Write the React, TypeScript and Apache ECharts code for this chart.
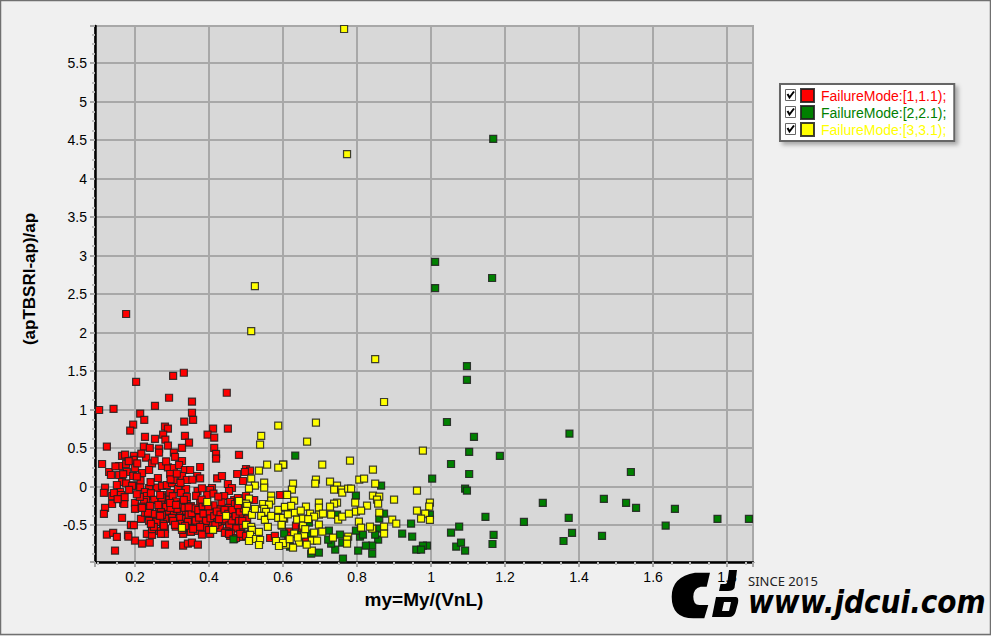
import React, { useEffect, useRef } from "react";
import * as echarts from "echarts";

const seriesNames = ["FailureMode:[1,1.1);", "FailureMode:[2,2.1);", "FailureMode:[3,3.1);"];
const seriesColors = ["#ff0000", "#008000", "#ffff00"];
const xAxisTitle = "my=My/(VnL)";
const yAxisTitle = "(apTBSRI-ap)/ap";

const redPoints: number[][] = [
  [.176,2.243],[.303,1.44],[.332,1.48],[.203,1.36],[.448,1.22],[.292,1.155],[.354,1.105],[.254,1.05],[.103,.996],[.142,1.01],
  [.354,.96],[.214,.95],[.225,.867],[.357,.867],[.333,.845],[.195,.806],[.187,.728],[.281,.78],[.289,.754],[.451,.754],
  [.411,.754],[.396,.676],[.227,.646],[.254,.62],[.276,.676],[.282,.611],[.335,.659],[.414,.637],[.346,.572],[.289,.533],
  [.124,.52],[.224,.52],[.24,.503],[.327,.503],[.414,.503],[.265,.494],[.265,.442],[.305,.442],[.419,.425],[.419,.364],
  [.481,.412],[.23,.377],[.165,.399],[.173,.416],[.197,.399],[.196,.347],[.308,.386],[.327,.334],[.111,.295],[.246,.304],
  [.157,.269],[.176,.295],[.2,.243],[.219,.178],[.238,.217],[.273,.269],[.289,.252],[.305,.243],[.319,.282],[.335,.217],
  [.349,.217],[.376,.256],[.13,.191],[.135,.152],[.178,.191],[.157,.152],[.195,.139],[.262,.113],[.295,.165],[.327,.139],
  [.368,.139],[.376,.109],[.422,.109],[.435,.139],[.476,.165],[.5,.23],[.511,.208],[.497,.191],[.492,.074],[.165,.061],
  [.176,.044],[.195,.018],[.192,.01],[.119,-.012],[.116,-.08],[.214,-.004],[.238,-.017],[.259,-.012],[.273,.01],[.286,.022],
  [.3,.048],[.316,-.03],[.338,-.03],[.305,.087],[.34,.087],[.369,-.056],[.408,-.017],[.403,-.043],[.451,.035],[.462,-.017],
  [.454,-.056],[.16,-.069],[.138,-.121],[.143,-.082],[.162,-.108],[.227,-.069],[.232,-.121],[.273,-.108],[.23,-.173],[.295,-.082],
  [.324,-.082],[.34,-.134],[.395,-.108],[.441,-.121],[.468,-.173],[.478,-.147],[.5,-.121],[.522,-.173],[.138,-.225],[.168,-.212],
  [.171,-.225],[.2,-.212],[.224,-.199],[.273,-.199],[.305,-.251],[.34,-.225],[.376,-.212],[.457,-.199],[.47,-.225],[.489,-.238],
  [.119,-.276],[.116,-.354],[.2,-.289],[.238,-.289],[.265,-.289],[.289,-.225],[.289,-.315],[.305,-.328],[.322,-.315],[.338,-.315],
  [.354,-.315],[.373,-.328],[.392,-.289],[.408,-.302],[.43,-.289],[.451,-.276],[.473,-.302],[.492,-.315],[.165,-.406],[.216,-.419],
  [.238,-.38],[.257,-.406],[.287,-.419],[.3,-.406],[.322,-.406],[.338,-.419],[.358,-.393],[.376,-.367],[.395,-.393],[.416,-.38],
  [.435,-.406],[.465,-.393],[.487,-.38],[.19,-.501],[.238,-.445],[.276,-.484],[.246,-.536],[.303,-.445],[.322,-.484],[.343,-.458],
  [.362,-.484],[.381,-.458],[.405,-.484],[.438,-.445],[.454,-.523],[.47,-.484],[.487,-.523],[.26,-.575],[.281,-.549],[.349,-.536],
  [.37,-.575],[.389,-.536],[.43,-.536],[.124,-.623],[.141,-.601],[.151,-.653],[.181,-.627],[.2,-.7],[.219,-.74],[.24,-.727],
  [.232,-.614],[.246,-.627],[.281,-.614],[.281,-.753],[.33,-.766],[.343,-.74],[.354,-.727],[.37,-.753],[.146,-.83],[.33,-.614],
  [.351,-.588],[.381,-.623],[.403,-.614],[.457,-.64],[.468,-.679],[.487,-.653],[.565,-.666],[.578,-.64],[.592,-.108],[.617,-.584],
  [.635,-.506],[.662,-.688],[.651,-.545],[.614,-.636],[.213,-.131],[.243,-.083],[.252,-.171],[.263,-.238],[.272,-.142],[.284,-.262],
  [.293,-.168],[.302,-.122],[.311,-.192],[.313,-.287],[.324,-.231],[.332,-.172],[.334,-.274],[.345,-.362],[.351,-.253],[.353,-.342],
  [.362,-.281],[.364,-.441],[.371,-.303],[.373,-.402],[.383,-.252],[.385,-.351],[.392,-.443],[.391,-.203],[.402,-.333],[.404,-.412],
  [.412,-.241],[.414,-.382],[.421,-.322],[.423,-.461],[.431,-.362],[.434,-.204],[.442,-.301],[.444,-.423],[.452,-.352],[.455,-.502],
  [.463,-.303],[.461,-.441],[.472,-.383],[.474,-.542],[.483,-.322],[.481,-.443],[.491,-.503],[.494,-.282],[.503,-.421],[.172,-.135],
  [.151,.022],[.147,.264],[.183,.331],[.206,.304],[.215,.082],[.168,.162],[.153,-.162],[.184,-.041],[.205,-.098],[.218,-.26],
  [.227,-.336],[.248,-.352],[.258,-.46],[.27,-.33],[.296,-.275],[.31,-.52],[.327,-.562],[.345,-.268],[.365,-.12],[.38,-.168],
  [.398,-.255],[.417,-.5],[.427,-.42],[.447,-.58],[.46,-.61],[.478,-.24],[.49,-.445],[.505,-.62],[.217,.43],[.205,.132],
  [.242,.06],[.253,.34],[.284,.33],[.296,.095],[.313,.17],[.323,.05],[.355,.09],[.381,-.02],[.412,-.09],[.425,-.13],
  [.246,-.55],[.251,-.523],[.243,-.484],[.235,-.341],[.241,-.25],[.219,-.276],[.268,-.108],[.273,-.367],[.295,-.212],[.311,-.237],
  [.268,-.38],[.189,-.497],[.197,-.5],[.182,-.649],[.27,-.614],[.278,-.51],[.308,-.497],[.335,-.51],[.357,-.549],[.376,-.523],
  [.4,-.562],[.443,-.601],[.454,-.614],[.473,-.666],[.484,-.614],[.5,-.64],
]

const greenPoints: number[][] = [
  [1.168,4.516],[1.011,2.92],[1.011,2.58],[1.165,2.71],[1.097,1.567],[1.097,1.386],[1.043,.84],[1.116,.646],[1.103,.451],[1.054,.295],
  [1.103,.165],[1.003,.105],[1.092,-.025],[1.097,-.051],[.633,.403],[.865,.014],[.797,-.116],[.946,-.48],[.949,-.649],[.922,-.61],
  [1.076,-.519],[1.054,-.597],[1.068,-.779],[1.081,-.727],[1.092,-.83],[.989,-.765],[.978,-.765],[.96,-.817],[.973,-.817],[.86,-.415],
  [.873,-.35],[.86,-.545],[.857,-.688],[.849,-.623],[.841,-.766],[.824,-.766],[.841,-.87],[.803,-.83],[.808,-.649],[.816,-.623],
  [.797,-.571],[.762,-.934],[.741,-.817],[.76,-.727],[.754,-.623],[.73,-.74],[.722,-.688],[.724,-.571],[.697,-.856],[.676,-.87],
  [.746,-.363],[.67,-.467],[.649,-.623],[.603,-.61],[.673,-.61],[.997,-.363],[.619,-.779],[.466,-.683],[1.374,.689],[1.186,.399],
  [1.54,.191],[1.467,-.159],[1.302,-.211],[1.527,-.211],[1.554,-.276],[1.659,-.289],[1.147,-.393],[1.372,-.406],[1.774,-.419],[1.859,-.419],
  [1.251,-.458],[1.634,-.506],[1.169,-.627],[1.381,-.601],[1.462,-.64],[1.358,-.705],[1.166,-.744],
]

const yellowPoints: number[][] = [
  [.765,5.944],[.773,4.32],[.524,2.606],[.514,2.02],[.849,1.658],[.873,1.1],[.689,.832],[.665,.585],[.978,.468],[.781,.338],
  [.706,.286],[.601,.286],[.843,.221],[.689,.092],[.687,.04],[.727,.066],[.627,.04],[.624,-.038],[.806,.092],[.819,.105],
  [.849,.04],[.746,.014],[.738,-.038],[.758,-.038],[.76,-.077],[.776,-.025],[.784,-.025],[.962,-.051],[.843,-.116],[.86,-.129],
  [.854,-.168],[.9,-.168],[.997,-.207],[.995,-.259],[.962,-.311],[.984,-.35],[.973,-.415],[.997,-.432],[.86,-.337],[.857,-.22],
  [.827,-.246],[.795,-.207],[.797,-.324],[.811,-.311],[.746,-.207],[.738,-.22],[.727,-.259],[.73,-.363],[.697,-.207],[.697,-.272],
  [.697,-.363],[.708,-.35],[.662,-.259],[.673,-.35],[.63,-.181],[.61,-.103],[.608,-.272],[.632,-.337],[.603,-.415],[.638,-.428],
  [.654,-.415],[.684,-.389],[.749,-.428],[.76,-.389],[.778,-.35],[.805,-.454],[.811,-.532],[.841,-.545],[.835,-.519],[.873,-.519],
  [.873,-.61],[.895,-.428],[.906,-.48],[.697,-.493],[.654,-.506],[.706,-.584],[.735,-.662],[.776,-.649],[.773,-.688],[.773,-.74],
  [.678,-.7],[.692,-.7],[.678,-.83],[.643,-.727],[.627,-.792],[.608,-.753],[.6,-.727],[.63,-.61],[.597,-.506],[.664,-.753],
  [.684,-.597],[.657,-.623],[.587,.793],[.541,.659],[.538,.546],[.557,.286],[.6,.286],[.587,.247],[.535,.208],[.514,.105],
  [.524,.014],[.508,-.025],[.549,.053],[.549,-.012],[.568,-.116],[.568,-.181],[.611,-.108],[.508,-.155],[.5,-.22],[.503,-.25],
  [.5,-.315],[.516,-.367],[.524,-.289],[.546,-.225],[.562,-.233],[.549,-.289],[.554,-.328],[.541,-.38],[.551,-.432],[.568,-.38],
  [.587,-.302],[.605,-.263],[.587,-.406],[.6,-.406],[.596,-.497],[.559,-.523],[.5,-.497],[.514,-.523],[.516,-.562],[.535,-.588],
  [.511,-.627],[.527,-.679],[.508,-.705],[.538,-.692],[.535,-.757],[.581,-.705],[.6,-.731],[.589,-.77],[.446,-.38],[.395,-.199],
  [.481,-.186],[.327,-.536],[.411,-.562],[.622,-.25],[.613,-.36],[.648,-.31],[.668,-.42],[.64,-.66],[.618,-.68],[.66,-.55],
]

const gridRect = { left: 95, top: 26, width: 658, height: 536 };
const xRange = [0.0919, 1.87];
const yRange = [-0.978, 5.983];

const logoC = "M710 572.7 L695 572.7 Q671.7 576.7 671.7 596.7 Q671.7 618.3 693.3 618.3 L704.3 618.3 L708.3 605 L699.3 605 Q693.3 605 693.3 596.7 Q693.3 588.3 700.7 586.7 L706.7 586.7 Z";
const logoJ = "M729 570 L737 570 L734.5 588 Q733 591 728 591 L719 591 L720.5 584 L725 584 Q727 584 727.5 581 Z";
const logoD = "M716 597 L736 597 Q739 597 738 603 L735.5 612 Q734 617 729 617 L712 617 Z M724 602 L722 611 L729 611 L731 602 Z";

echarts.graphic.registerShape("logoC", echarts.graphic.extendPath(logoC, {}));
echarts.graphic.registerShape("logoJ", echarts.graphic.extendPath(logoJ, {}));
echarts.graphic.registerShape("logoD", echarts.graphic.extendPath(logoD, {}));

const font = "'Liberation Sans', Arial, sans-serif";
const gridGrey = "#a8a8a8";

function onMultiple(v: number, step: number) {
  const q = v / step;
  return Math.abs(q - Math.round(q)) < 1e-6;
}

function axisCommon(step: number) {
  return {
    type: "value" as const,
    axisLine: { show: true, onZero: false, lineStyle: { color: "#000", width: 2.5 } },
    axisTick: { show: true, length: 5, lineStyle: { color: gridGrey, width: 2 } },
    minorTick: { show: true, splitNumber: 4, length: 3, lineStyle: { color: "#bdbdbd", width: 2 } },
    splitLine: { show: true, lineStyle: { color: gridGrey, width: 2 } },
    axisLabel: {
      color: "#000", fontSize: 14, fontFamily: font, hideOverlap: false,
      formatter: (v: number) => (onMultiple(v, step) ? String(Math.round(v * 10) / 10) : ""),
    },
  };
}

export default function App() {
  const ref = useRef<HTMLDivElement>(null);
  useEffect(() => {
    document.body.style.margin = "0";
    document.body.style.background = "#f0f0f0";
    const chart = echarts.init(ref.current!, undefined, { renderer: "svg" });
    const rowsY = [95, 112, 129];
    const checkboxes = rowsY.flatMap((y) => [
      { type: "rect", z: 20, shape: { x: 785.5, y: y - 5.5, width: 10, height: 11 }, style: { fill: "#fff", stroke: "#666", lineWidth: 1 } },
      { type: "polyline", z: 21, shape: { points: [[787.5, y - 1], [789.5, y + 2.5], [794, y - 3.5]] }, style: { fill: "none", stroke: "#000", lineWidth: 2 } },
    ]);
    chart.setOption({
      animation: false,
      backgroundColor: "#f0f0f0",
      grid: { ...gridRect, show: true, backgroundColor: "#d8d8d8", borderColor: gridGrey, borderWidth: 2 },
      xAxis: {
        ...axisCommon(0.2), min: xRange[0], max: xRange[1], splitNumber: 9,
        name: xAxisTitle, nameLocation: "middle", nameGap: 28,
        nameTextStyle: { color: "#000", fontWeight: "bold", fontSize: 19, fontFamily: font },
      },
      yAxis: {
        ...axisCommon(0.5), min: yRange[0], max: yRange[1], splitNumber: 14,
        name: yAxisTitle, nameLocation: "middle", nameGap: 57,
        nameTextStyle: { color: "#000", fontWeight: "bold", fontSize: 17, fontFamily: font, padding: [0, 0, 0, 30] },
      },
      legend: {
        show: true, orient: "vertical", left: 780, top: 84, icon: "rect",
        itemWidth: 13, itemHeight: 13, itemGap: 2, padding: [4, 8, 4, 20],
        backgroundColor: "#fff", borderColor: "#666", borderWidth: 2,
        shadowColor: "rgba(0,0,0,0.3)", shadowBlur: 4, shadowOffsetX: 3, shadowOffsetY: 3,
        data: seriesNames.map((name, i) => ({
          name, textStyle: { color: seriesColors[i], fontSize: 14, fontFamily: font, padding: [0, 0, 0, 2] },
        })),
      },
      series: [redPoints, greenPoints, yellowPoints].map((data, i) => ({
        type: "scatter", name: seriesNames[i], data, symbol: "rect", symbolSize: 7, clip: false,
        itemStyle: { color: seriesColors[i], borderColor: "rgba(30,30,30,0.85)", borderWidth: 1.2, opacity: 1 },
      })),
      graphic: [
        { type: "rect", z: 30, silent: true, shape: { x: 0.5, y: 0.5, width: 990, height: 634 }, style: { fill: "none", stroke: "#707070", lineWidth: 1.5 } },
        ...checkboxes,
        { type: "logoC", z: 30, x: 0, y: 0, style: { fill: "#000" } },
        { type: "logoJ", z: 30, x: 0, y: 0, style: { fill: "#000" } },
        { type: "logoD", z: 30, x: 0, y: 0, style: { fill: "#000" } },
        { type: "text", z: 30, x: 748, y: 574, style: { text: "SINCE 2015", fill: "#222", fontSize: 13, fontFamily: "'Noto Sans', sans-serif" } },
        { type: "text", z: 30, x: 748, y: 586, scaleY: 1.15, style: { text: "www.jdcui.com", fill: "#000", fontSize: 28, fontWeight: "bold", fontStyle: "italic", fontFamily: "'DejaVu Sans', sans-serif" } },
      ],
    });
    return () => chart.dispose();
  }, []);
  return <div ref={ref} style={{ position: "absolute", left: 0, top: 0, width: 991, height: 636 }} />;
}
